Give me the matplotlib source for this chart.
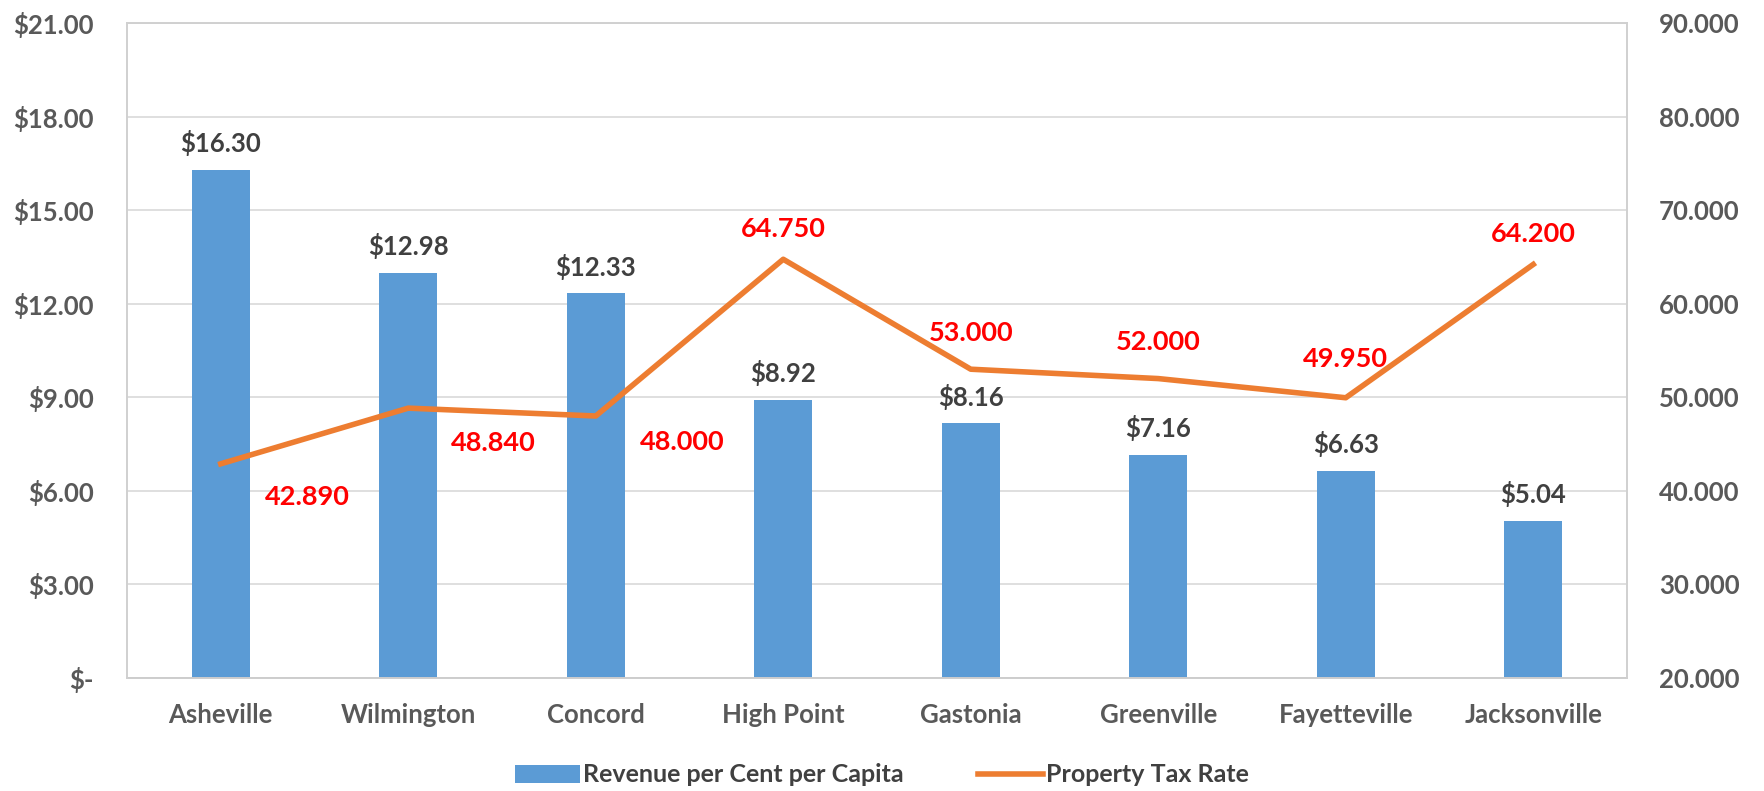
import numpy as np
import matplotlib
matplotlib.use("Agg")
import matplotlib.pyplot as plt
from matplotlib.ticker import FuncFormatter

cities = ["Asheville", "Wilmington", "Concord", "High Point", "Gastonia",
          "Greenville", "Fayetteville", "Jacksonville"]
revenue = [16.30, 12.98, 12.33, 8.92, 8.16, 7.16, 6.63, 5.04]
tax_rate = [42.890, 48.840, 48.000, 64.750, 53.000, 52.000, 49.950, 64.200]

plt.rcParams['font.family'] = ['Lato', 'DejaVu Sans']

fig = plt.figure(figsize=(17.65, 7.91), dpi=100)
ax = fig.add_axes([127/1765, 1 - 678/791, 1500/1765, 655/791])
ax2 = ax.twinx()

x = np.arange(len(cities))
bars = ax.bar(x, revenue, width=0.31, color="#5B9BD5", zorder=2,
              label="Revenue per Cent per Capita")
ln, = ax2.plot(x, tax_rate, color="#ED7D31", lw=4, zorder=3,
               solid_joinstyle="round", label="Property Tax Rate")

ax.set_xlim(-0.5, len(cities) - 0.5)
ax.set_ylim(0, 21)
ax.set_yticks(np.arange(0, 22, 3))
ax.yaxis.set_major_formatter(FuncFormatter(lambda v, p: "$-" if v == 0 else f"${v:.2f}"))
ax2.set_ylim(20, 90)
ax2.set_yticks(np.arange(20, 91, 10))
ax2.yaxis.set_major_formatter(FuncFormatter(lambda v, p: f"{v:.3f}"))

ax.grid(axis="y", color="#D9D9D9", lw=1.2, zorder=0)
ax.set_axisbelow(True)
ax.set_xticks(x)
ax.set_xticklabels(cities)

for a in (ax, ax2):
    a.tick_params(length=0, labelsize=18.5, labelcolor="#595959")
    for s in a.spines.values():
        s.set_color("#D0D0D0")
        s.set_linewidth(1.2)
    for t in a.get_xticklabels() + a.get_yticklabels():
        t.set_fontweight("bold")
ax.spines["bottom"].set_color("#BFBFBF")
ax.tick_params(axis="x", pad=18)
ax.tick_params(axis="y", pad=24)
ax2.tick_params(axis="y", pad=23)

for xi, v in zip(x, revenue):
    ax.annotate(f"${v:.2f}", (xi, v), xytext=(0, 10), textcoords="offset points",
                ha="center", va="bottom", fontsize=18.5, fontweight="bold",
                color="#404040")

offsets = [(62, -24), (61, -25), (62, -19), (0, 22), (0, 26), (0, 26), (0, 28), (0, 22)]
for xi, v, off in zip(x, tax_rate, offsets):
    ax2.annotate(f"{v:.3f}", (xi, v), xytext=off, textcoords="offset points",
                 ha="center", va="center",
                 fontsize=19.5, fontweight="bold", color="#FF0000")

fig.legend(handles=[bars, ln], loc="center", bbox_to_anchor=(882/1765, 1 - 775/791),
           ncol=2, frameon=False, prop={"size": 18, "weight": "bold"},
           handlelength=2.6, handletextpad=0.1,
           columnspacing=3.0, labelcolor="#404040")

fig.savefig("out.png", dpi=100, facecolor="white")
